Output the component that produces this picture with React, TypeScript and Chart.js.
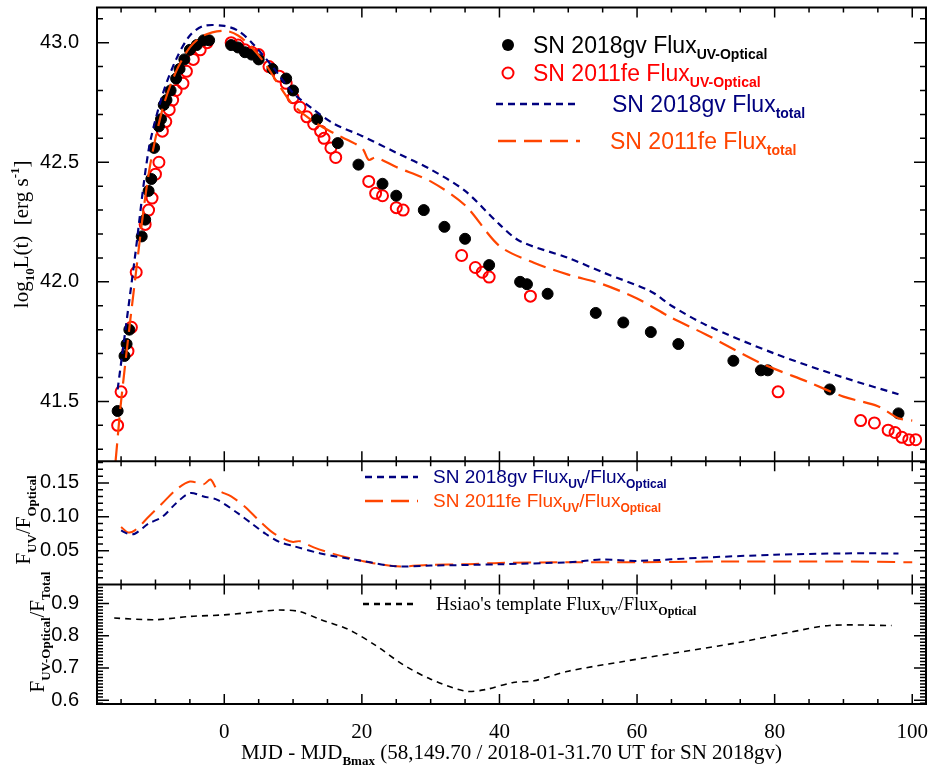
import { useEffect, useRef } from "react";
import { Chart, registerables } from "chart.js";

Chart.register(...registerables);

// SN 2018gv UV-optical bolometric points [day, log L]
const GV_X = [-15.5, -14.5, -14.2, -13.8, -12, -11.5, -11, -10.6, -10.2, -9.5, -9.2, -8.8, -8.4, -7.8, -7, -6.5, -5.8, -5, -4, -3, -2.2, 1, 2, 3, 4, 5, 7, 9, 10, 13.5, 16.5, 19.5, 23, 25, 29, 32, 35, 38.5, 43, 44, 47, 54, 58, 62, 66, 74, 78, 79, 88, 98];
const GV_Y = [41.46, 41.69, 41.74, 41.8, 42.19, 42.26, 42.38, 42.43, 42.56, 42.65, 42.68, 42.74, 42.76, 42.8, 42.85, 42.89, 42.93, 42.97, 42.99, 43.01, 43.01, 42.99, 42.98, 42.96, 42.95, 42.93, 42.89, 42.85, 42.8, 42.68, 42.58, 42.49, 42.41, 42.36, 42.3, 42.23, 42.18, 42.07, 42.0, 41.99, 41.95, 41.87, 41.83, 41.79, 41.74, 41.67, 41.63, 41.63, 41.55, 41.45];

// SN 2011fe UV-optical points
const FE_X = [-15.5, -15, -14, -13.5, -12.8, -11.5, -11, -10.5, -10, -9.5, -9, -8.5, -8, -7.5, -7, -6, -5.5, -4.5, -3.5, -2.5, 1, 2, 3, 4, 5, 6.5, 8, 9, 10, 11, 12, 13, 14, 14.5, 15.5, 16.2, 21, 22, 23, 25, 26, 34.5, 36.5, 37.5, 38.5, 44.5, 80.5, 92.5, 94.5, 96.5, 97.5, 98.5, 99.5, 100.5];
const FE_Y = [41.4, 41.54, 41.71, 41.81, 42.04, 42.24, 42.3, 42.35, 42.45, 42.5, 42.63, 42.67, 42.72, 42.76, 42.8, 42.83, 42.88, 42.93, 42.97, 43.0, 43.0, 42.99, 42.97, 42.96, 42.95, 42.9, 42.86, 42.83, 42.77, 42.73, 42.69, 42.66, 42.63, 42.6, 42.56, 42.52, 42.42, 42.37, 42.36, 42.31, 42.3, 42.11, 42.06, 42.04, 42.02, 41.94, 41.54, 41.42, 41.41, 41.38, 41.37, 41.35, 41.34, 41.34];

// total flux curves
const GV_TOT_X = [-15.5, -13, -11, -9, -7, -5, -3, 0, 2, 4, 7, 10, 13, 16, 20, 25, 30, 35, 40, 43, 50, 55, 62, 65, 70, 80, 90, 98];
const GV_TOT_Y = [41.55, 42.1, 42.55, 42.78, 42.93, 43.03, 43.07, 43.07, 43.05, 43.0, 42.9, 42.79, 42.72, 42.66, 42.61, 42.54, 42.47, 42.38, 42.24, 42.17, 42.1, 42.04, 41.96, 41.9, 41.82, 41.7, 41.6, 41.53];
const FE_TOT_X = [-15.8, -15, -13, -11, -9, -7, -5, -3, 0, 2, 4, 6, 8, 10, 13, 16, 20, 21, 22, 25, 30, 35, 40, 45, 50, 55, 60, 65, 70, 78, 85, 90, 95, 98, 100];
const FE_TOT_Y = [41.25, 41.5, 42.0, 42.45, 42.72, 42.88, 42.98, 43.03, 43.05, 43.03, 42.98, 42.91, 42.82, 42.74, 42.67, 42.62, 42.56, 42.51, 42.52, 42.48, 42.42, 42.32, 42.15, 42.08, 42.03, 41.99, 41.93, 41.85, 41.78, 41.66, 41.58, 41.52, 41.48, 41.43, 41.42];

// UV / optical ratio
const GV_R_X = [-15, -14, -13, -11, -9, -7, -5, -3, -1, 2, 4, 6, 8, 10, 14, 20, 25, 30, 40, 50, 55, 60, 70, 80, 90, 98];
const GV_R_Y = [0.08, 0.075, 0.075, 0.09, 0.1, 0.12, 0.135, 0.13, 0.125, 0.105, 0.09, 0.075, 0.063, 0.057, 0.046, 0.035, 0.027, 0.028, 0.03, 0.033, 0.037, 0.035, 0.04, 0.044, 0.046, 0.046];
const FE_R_X = [-15, -14, -13, -11, -9, -7, -5, -3, -2, -1, 1, 3, 5, 7, 9, 10, 11, 13, 16, 20, 25, 30, 35, 40, 50, 60, 70, 80, 90, 100];
const FE_R_Y = [0.085, 0.077, 0.08, 0.1, 0.12, 0.14, 0.152, 0.148, 0.155, 0.14, 0.13, 0.115, 0.095, 0.077, 0.066, 0.063, 0.064, 0.055, 0.045, 0.035, 0.027, 0.029, 0.03, 0.032, 0.033, 0.033, 0.034, 0.034, 0.034, 0.033];

// Hsiao template ratio
const HS_X = [-16, -10, -5, 0, 5, 8, 11, 14, 18, 22, 26, 30, 35, 38, 42, 45, 50, 58, 65, 75, 82, 88, 97];
const HS_Y = [0.855, 0.85, 0.86, 0.865, 0.875, 0.88, 0.875, 0.85, 0.82, 0.77, 0.71, 0.665, 0.628, 0.633, 0.655, 0.66, 0.69, 0.72, 0.745, 0.78, 0.81, 0.832, 0.832];

const X_TICKS = [0, 20, 40, 60, 80, 100];
const TOP_TICKS = [41.5, 42.0, 42.5, 43.0];
const MID_TICKS = [0.05, 0.1, 0.15];
const BOT_TICKS = [0.6, 0.7, 0.8, 0.9];

const NAVY = "#00007f";
const ORANGE = "#ff4500";
const RED = "#ff0000";
const SANS = "'Liberation Sans', Arial, sans-serif";
const SERIF = "'Liberation Serif', serif";

const pts = (xs: number[], ys: number[]) => xs.map((x, i) => ({ x, y: ys[i] }));

type Part = { t: string; sub?: boolean; sup?: boolean };

function richText(ctx: CanvasRenderingContext2D, parts: Part[], x: number, y: number, size: number, family: string, color: string, align: "left" | "center" = "left") {
  const fontFor = (p: Part) =>
    p.sub || p.sup ? `bold ${Math.round(size * 0.62)}px ${family}` : `${size}px ${family}`;
  let total = 0;
  parts.forEach((p) => {
    ctx.font = fontFor(p);
    total += ctx.measureText(p.t).width;
  });
  let cx = align === "center" ? x - total / 2 : x;
  ctx.fillStyle = color;
  ctx.textBaseline = "alphabetic";
  ctx.textAlign = "left";
  parts.forEach((p) => {
    ctx.font = fontFor(p);
    const dy = p.sub ? size * 0.28 : p.sup ? -size * 0.42 : 0;
    ctx.fillText(p.t, cx, y + dy);
    cx += ctx.measureText(p.t).width;
  });
}

const fixTicks = (vals: number[]) => (scale: any) => {
  scale.ticks = vals.map((v) => ({ value: v }));
};

const fitY = (s: any) => {
  s.width = 97;
  s.paddingTop = 0;
  s.paddingBottom = 0;
};

const decor = {
  id: "decor",
  afterDraw(chart: any) {
    const ctx: CanvasRenderingContext2D = chart.ctx;
    const { left, right, top, bottom } = chart.chartArea;
    const s = chart.scales;
    ctx.save();
    ctx.strokeStyle = "#000";
    // frame + panel separators
    ctx.lineWidth = 2;
    ctx.strokeRect(left, top, right - left, bottom - top);
    [s.yM.top, s.yB.top].forEach((yy: number) => {
      ctx.beginPath();
      ctx.moveTo(left, yy);
      ctx.lineTo(right, yy);
      ctx.stroke();
    });
    // x ticks in each panel
    ctx.lineWidth = 1.5;
    const panels = [s.yT, s.yM, s.yB];
    for (let v = -15; v <= 100; v += 5) {
      const px = s.x.getPixelForValue(v);
      const len = v % 20 === 0 ? 10 : 5;
      panels.forEach((p: any) => {
        ctx.beginPath();
        ctx.moveTo(px, p.bottom);
        ctx.lineTo(px, p.bottom - len);
        ctx.moveTo(px, p.top);
        ctx.lineTo(px, p.top + len);
        ctx.stroke();
      });
    }
    // y ticks (both sides)
    const yTicks = (sc: any, from: number, to: number, step: number, major: number) => {
      for (let v = from; v <= to + 1e-9; v += step) {
        const py = sc.getPixelForValue(v);
        const isMajor = Math.abs(v / major - Math.round(v / major)) < 1e-6;
        const len = isMajor ? 12 : 6;
        ctx.beginPath();
        ctx.moveTo(left, py);
        ctx.lineTo(left + len, py);
        ctx.moveTo(right, py);
        ctx.lineTo(right - len, py);
        ctx.stroke();
      }
    };
    yTicks(s.yT, 41.3, 43.1, 0.1, 0.5);
    yTicks(s.yM, 0.01, 0.18, 0.01, 0.05);
    yTicks(s.yB, 0.59, 0.95, 0.01, 0.1);

    // axis titles
    ctx.save();
    ctx.translate(28, (s.yT.top + s.yT.bottom) / 2);
    ctx.rotate(-Math.PI / 2);
    richText(ctx, [{ t: "log" }, { t: "10", sub: true }, { t: "L(t)  [erg s" }, { t: "-1", sup: true }, { t: "]" }], 0, 0, 21, SERIF, "#000", "center");
    ctx.restore();
    ctx.save();
    ctx.translate(30, 520);
    ctx.rotate(-Math.PI / 2);
    richText(ctx, [{ t: "F" }, { t: "UV", sub: true }, { t: "/F" }, { t: "Optical", sub: true }], 0, 0, 21, SERIF, "#000", "center");
    ctx.restore();
    ctx.save();
    ctx.translate(44, 632);
    ctx.rotate(-Math.PI / 2);
    richText(ctx, [{ t: "F" }, { t: "UV-Optical", sub: true }, { t: "/F" }, { t: "Total", sub: true }], 0, 0, 21, SERIF, "#000", "center");
    ctx.restore();
    richText(ctx, [{ t: "MJD - MJD" }, { t: "Bmax", sub: true }, { t: " (58,149.70 / 2018-01-31.70 UT for SN 2018gv)" }], (left + right) / 2, 759, 21, SERIF, "#000", "center");

    // legends
    ctx.fillStyle = "#000";
    ctx.beginPath();
    ctx.arc(508, 45, 6, 0, Math.PI * 2);
    ctx.fill();
    richText(ctx, [{ t: "SN 2018gv Flux" }, { t: "UV-Optical", sub: true }], 533, 53, 23, SANS, "#000");
    ctx.strokeStyle = RED;
    ctx.lineWidth = 2;
    ctx.beginPath();
    ctx.arc(508, 73, 5.5, 0, Math.PI * 2);
    ctx.stroke();
    richText(ctx, [{ t: "SN 2011fe Flux" }, { t: "UV-Optical", sub: true }], 533, 81, 23, SANS, RED);
    const dashLine = (x1: number, x2: number, y: number, color: string, dash: number[]) => {
      ctx.strokeStyle = color;
      ctx.lineWidth = 2.5;
      ctx.setLineDash(dash);
      ctx.beginPath();
      ctx.moveTo(x1, y);
      ctx.lineTo(x2, y);
      ctx.stroke();
      ctx.setLineDash([]);
    };
    dashLine(496, 580, 104, NAVY, [7, 5]);
    richText(ctx, [{ t: "SN 2018gv Flux" }, { t: "total", sub: true }], 612, 112, 23, SANS, NAVY);
    dashLine(498, 580, 141, ORANGE, [18, 8]);
    richText(ctx, [{ t: "SN 2011fe Flux" }, { t: "total", sub: true }], 610, 149, 23, SANS, ORANGE);
    dashLine(365, 418, 477, NAVY, [7, 5]);
    richText(ctx, [{ t: "SN 2018gv Flux" }, { t: "UV", sub: true }, { t: "/Flux" }, { t: "Optical", sub: true }], 433, 483, 19, SANS, NAVY);
    dashLine(365, 418, 501, ORANGE, [18, 8]);
    richText(ctx, [{ t: "SN 2011fe Flux" }, { t: "UV", sub: true }, { t: "/Flux" }, { t: "Optical", sub: true }], 433, 507, 19, SANS, ORANGE);
    dashLine(363, 415, 604, "#000", [6, 5]);
    richText(ctx, [{ t: "Hsiao's template Flux" }, { t: "UV", sub: true }, { t: "/Flux" }, { t: "Optical", sub: true }], 436, 610, 19, SERIF, "#000");
    ctx.restore();
  },
};

export default function App() {
  const ref = useRef<HTMLCanvasElement>(null);

  useEffect(() => {
    if (!ref.current) return;
    const line = (data: any, color: string, dash: number[], yAxisID: string, width = 2) => ({
      type: "line" as const,
      data,
      yAxisID,
      borderColor: color,
      borderDash: dash,
      borderWidth: width,
      pointRadius: 0,
      fill: false,
      tension: 0.3,
    });
    const yTick = (digits: number) => ({
      color: "#000",
      autoSkip: false,
      font: { family: SANS, size: 20 },
      padding: 10,
      callback: (v: any) => Number(v).toFixed(digits),
    });
    const chart = new Chart(ref.current, {
      type: "scatter",
      data: {
        datasets: [
          line(pts(GV_TOT_X, GV_TOT_Y), NAVY, [7, 5], "yT", 2.2),
          line(pts(FE_TOT_X, FE_TOT_Y), ORANGE, [18, 8], "yT", 2.2),
          {
            data: pts(GV_X, GV_Y),
            yAxisID: "yT",
            backgroundColor: "#000",
            borderColor: "#000",
            pointRadius: 5.5,
          },
          {
            data: pts(FE_X, FE_Y),
            yAxisID: "yT",
            backgroundColor: "rgba(0,0,0,0)",
            borderColor: RED,
            borderWidth: 2,
            pointRadius: 5.5,
          },
          line(pts(GV_R_X, GV_R_Y), NAVY, [7, 5], "yM"),
          line(pts(FE_R_X, FE_R_Y), ORANGE, [18, 8], "yM"),
          line(pts(HS_X, HS_Y), "#000", [6, 5], "yB", 1.6),
        ] as any,
      },
      options: {
        animation: false,
        responsive: true,
        maintainAspectRatio: false,
        layout: { padding: { top: 1, right: 9, left: 0, bottom: 0 } },
        plugins: { legend: { display: false }, tooltip: { enabled: false } },
        scales: {
          x: {
            type: "linear",
            min: -18.5,
            max: 102,
            grid: { display: false },
            border: { display: false },
            afterBuildTicks: fixTicks(X_TICKS),
            afterFit: (s: any) => {
              s.height = 63;
              s.paddingLeft = 0;
              s.paddingRight = 0;
            },
            ticks: { color: "#000", autoSkip: false, font: { family: SERIF, size: 21 }, padding: 8, maxRotation: 0 },
          },
          yB: {
            type: "linear",
            position: "left",
            stack: "p",
            stackWeight: 120,
            min: 0.588,
            max: 0.959,
            grid: { display: false },
            border: { display: false },
            afterBuildTicks: fixTicks(BOT_TICKS),
            afterFit: fitY,
            ticks: yTick(1),
          },
          yM: {
            type: "linear",
            position: "left",
            stack: "p",
            stackWeight: 124,
            min: 0,
            max: 0.182,
            grid: { display: false },
            border: { display: false },
            afterBuildTicks: fixTicks(MID_TICKS),
            afterFit: fitY,
            ticks: yTick(2),
          },
          yT: {
            type: "linear",
            position: "left",
            stack: "p",
            stackWeight: 456,
            min: 41.25,
            max: 43.147,
            grid: { display: false },
            border: { display: false },
            afterBuildTicks: fixTicks(TOP_TICKS),
            afterFit: fitY,
            ticks: yTick(1),
          },
        },
      } as any,
      plugins: [decor],
    });
    return () => chart.destroy();
  }, []);

  return (
    <div style={{ position: "fixed", left: 0, top: 0, width: 935, height: 767, background: "#fff" }}>
      <canvas ref={ref} />
    </div>
  );
}
